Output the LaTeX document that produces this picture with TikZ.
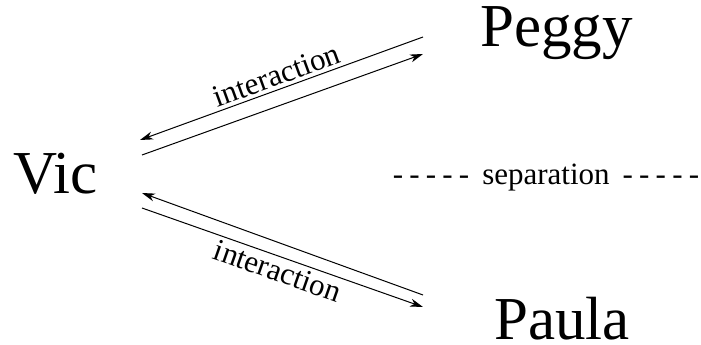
\documentclass[tikz,border=0pt]{standalone}
\usepackage{fontspec}
\setmainfont{Liberation Serif}
\usetikzlibrary{arrows.meta}

\newcommand\zkpnamestyle{\fontsize{61}{61}\selectfont}
\newcommand\zkpcommentstyle{\fontsize{31}{31}\selectfont}
\newcommand\zkpdashes{-\hspace{6.2pt}-\hspace{6.2pt}-\hspace{6.2pt}-\hspace{6.2pt}-}
\tikzset{
  zkpname/.style={inner sep=0pt, anchor=base west},
  zkpline/.style={line width=1pt, -{Stealth[length=13pt, width=8pt, inset=4pt]}},
  zkpback/.style={line width=1pt, {Stealth[length=13pt, width=8pt, inset=4pt]}-},
}

\begin{document}
\begin{tikzpicture}[x=1pt, y=1pt]
    \useasboundingbox (0, 0) rectangle (701, 345) ;
    % the three parties
    \node[zkpname] (vic) at (13, 151) {\zkpnamestyle Vic} ;
    \node[zkpname] (peggy) at (480, 298) {\zkpnamestyle Peggy} ;
    \node[zkpname] (paula) at (494, 5) {\zkpnamestyle Paula} ;
    \node[anchor=base, inner sep=0pt] (sep) at (546, 160) {\zkpcommentstyle \zkpdashes\hspace{13pt}separation\hspace{13pt}\zkpdashes} ;
    % line ends
    \coordinate (peggyin) at (423, 308) ;
    \coordinate (vicup) at (140, 205) ;
    \coordinate (vicout) at (142, 190) ;
    \coordinate (peggyout) at (423, 291) ;
    \coordinate (paulain) at (423, 50) ;
    \coordinate (vicdown) at (142, 152) ;
    \coordinate (vicdownout) at (142, 137) ;
    \coordinate (paulaout) at (423, 38) ;
    % Vic <-> Peggy
    \draw[zkpback] (vicup) -- (peggyin) node[midway, sloped, above]{\zkpcommentstyle interaction} ;
    \draw[zkpline] (vicout) -- (peggyout) ;
    % Vic <-> Paula
    \draw[zkpback] (vicdown) -- (paulain) ;
    \draw[zkpline] (vicdownout) -- (paulaout) node[midway, sloped, below]{\zkpcommentstyle interaction} ;
\end{tikzpicture}
\end{document}
